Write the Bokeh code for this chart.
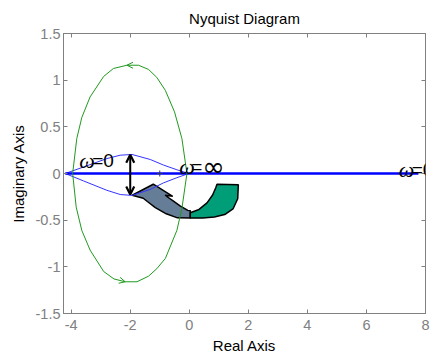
from bokeh.plotting import figure
from bokeh.models import Range1d, LinearAxis, Label, Arrow, OpenHead, FixedTicker
from bokeh.embed import file_html
from bokeh.resources import INLINE

# ---- data -------------------------------------------------------------
title_text = "Nyquist Diagram"
x_ticks = [-4, -2, 0, 2, 4, 6, 8]
x_tick_labels = ["-4", "-2", "0", "2", "4", "6", "8"]
y_ticks = [-1.5, -1, -0.5, 0, 0.5, 1, 1.5]
y_tick_labels = ["-1.5", "-1", "-0.5", "0", "0.5", "1", "1.5"]

# green Nyquist loop (upper half right->left, lower half left->right)
green_up_re = [-0.08, -0.25, -0.50, -0.81, -1.10, -1.38, -1.72, -2.11, -2.57, -2.90, -3.36, -3.64, -3.81, -3.95]
green_up_im = [0.00, 0.375, 0.66, 0.89, 1.03, 1.115, 1.16, 1.16, 1.125, 1.04, 0.82, 0.60, 0.375, 0.00]
green_lo_re = [-3.95, -3.83, -3.64, -3.36, -2.90, -2.55, -2.17, -1.77, -1.38, -1.10, -0.81, -0.42, -0.25, -0.08]
green_lo_im = [0.00, -0.36, -0.61, -0.82, -1.05, -1.13, -1.16, -1.16, -1.10, -1.02, -0.91, -0.61, -0.375, 0.00]

# thin blue lens
lens_re = [-4.20, -3.58, -2.79, -2.34, -1.94, -1.32, -0.87, -0.42, -0.02]
lens_up_im = [0.00, 0.07, 0.16, 0.196, 0.204, 0.15, 0.09, 0.04, 0.00]
lens_lo_im = [0.00, -0.08, -0.18, -0.225, -0.235, -0.17, -0.10, -0.045, 0.00]

# thick blue real-axis segment
axis_seg_re = [-4.20, 7.76]
axis_seg_im = [0.0, 0.0]

# critical point
crit_re = [-1.0]
crit_im = [0.0]

# block arrow outlines (data units)
slate_re = [0.034, -0.400, -0.780, -1.150, -1.420, -1.560, -1.932, -1.220, -0.560, -0.820,
            -0.560, -0.300, -0.050, 0.034]
slate_im = [-0.478, -0.475, -0.432, -0.365, -0.300, -0.265, -0.233, -0.115, -0.244, -0.233,
            -0.290, -0.350, -0.395, -0.400]
teal_re = [0.939, 1.661, 1.640, 1.480, 1.200, 0.850, 0.450, 0.034, 0.034, 0.330, 0.600, 0.790, 0.900]
teal_im = [-0.115, -0.120, -0.270, -0.380, -0.440, -0.465, -0.478, -0.478, -0.420, -0.385, -0.315,
           -0.230, -0.150]

# ---- figure -----------------------------------------------------------
GRAY = "#808080"
p = figure(width=433, height=356, x_range=Range1d(-4.26, 8), y_range=Range1d(-1.5, 1.5),
           output_backend="svg", toolbar_location=None, title=title_text,
           min_border_left=63, min_border_right=8, min_border_top=0, min_border_bottom=43)
p.grid.visible = False
p.outline_line_color = GRAY
p.background_fill_color = "white"
p.border_fill_color = "white"

p.title.text_font = "Liberation Sans"
p.title.text_font_size = "15px"
p.title.text_font_style = "normal"
p.title.text_color = "black"
p.title.align = "center"
p.title.standoff = 14

def style_axis(ax, ticks, labels, show_labels=True):
    ax.ticker = FixedTicker(ticks=ticks)
    ax.major_label_overrides = {t: l for t, l in zip(ticks, labels)}
    ax.major_tick_in = 4
    ax.major_tick_out = 0
    ax.minor_tick_line_color = None
    ax.axis_line_color = GRAY
    ax.major_tick_line_color = GRAY
    ax.major_label_text_color = GRAY if show_labels else None
    ax.major_label_text_font = "Liberation Sans"
    ax.major_label_text_font_size = "14.5px" if show_labels else "1px"
    ax.axis_label_text_font = "Liberation Sans"
    ax.axis_label_text_font_size = "15px"
    ax.axis_label_text_font_style = "normal"
    ax.axis_label_text_color = "black"

xa = p.xaxis[0]
ya = p.yaxis[0]
style_axis(xa, x_ticks, x_tick_labels)
style_axis(ya, y_ticks, y_tick_labels)
xa.axis_label = "Real Axis"
ya.axis_label = "Imaginary Axis"
xa.major_label_standoff = 6
ya.major_label_standoff = 3
xa.axis_label_standoff = 4
ya.axis_label_standoff = 6

ra = LinearAxis()
style_axis(ra, y_ticks, y_tick_labels, show_labels=False)
ra.major_label_standoff = 0
p.add_layout(ra, "right")
ta = LinearAxis()
style_axis(ta, x_ticks, x_tick_labels, show_labels=False)
ta.major_label_standoff = 0
p.add_layout(ta, "above")

# block arrows
p.patch(slate_re, slate_im, fill_color="#657d97", line_color="black", line_width=1.5)
p.patch(teal_re, teal_im, fill_color="#009e78", line_color="black", line_width=1.5)

# curves
p.line(lens_re, lens_up_im, line_color="#3535ff", line_width=1)
p.line(lens_re, lens_lo_im, line_color="#3535ff", line_width=1)
p.line(axis_seg_re, axis_seg_im, line_color="#0000ff", line_width=2.4)
GREEN = "#1f9a1f"
p.line(green_up_re + green_lo_re[1:], green_up_im + green_lo_im[1:], line_color=GREEN, line_width=1)
p.scatter(crit_re, crit_im, marker="cross", size=6, line_color="#303060", line_width=1)

# green direction arrows
p.add_layout(Arrow(end=OpenHead(size=6, line_color=GREEN, line_width=1),
                   x_start=green_up_re[6], y_start=green_up_im[6],
                   x_end=green_up_re[7], y_end=green_up_im[7], line_alpha=0))
p.add_layout(Arrow(end=OpenHead(size=6, line_color=GREEN, line_width=1),
                   x_start=green_lo_re[5], y_start=green_lo_im[5],
                   x_end=green_lo_re[6], y_end=green_lo_im[6], line_alpha=0))

# vertical double arrow
p.add_layout(Arrow(start=OpenHead(size=8, line_width=2.2), end=OpenHead(size=8, line_width=2.2),
                   x_start=-2.0, y_start=0.20, x_end=-2.0, y_end=-0.225,
                   line_width=2, line_color="black"))

# omega labels
def add_text(x, y, txt, font, size, off=0, style="normal"):
    p.add_layout(Label(x=x, y=y, x_offset=off, text=txt, text_font=font,
                       text_font_style=style, text_font_size=size,
                       text_baseline="alphabetic", text_color="black"))

SERIF = "Liberation Serif"
SANS = "Liberation Sans"
add_text(-3.73, 0.135, "ω", SERIF, "22px", 0, "italic")
add_text(-3.73, 0.135, "=0", SANS, "19px", 13)
add_text(-0.34, 0.07, "ω", SERIF, "22px", 0, "italic")
add_text(-0.34, 0.07, "=", SANS, "19px", 12)
add_text(-0.34, 0.07, "∞", "DejaVu Sans", "27px", 23)
add_text(7.09, 0.045, "ω", SERIF, "22px", 0, "italic")
add_text(7.09, 0.045, "=0", SANS, "19px", 13)

open("out.html", "w").write(file_html(p, INLINE))
